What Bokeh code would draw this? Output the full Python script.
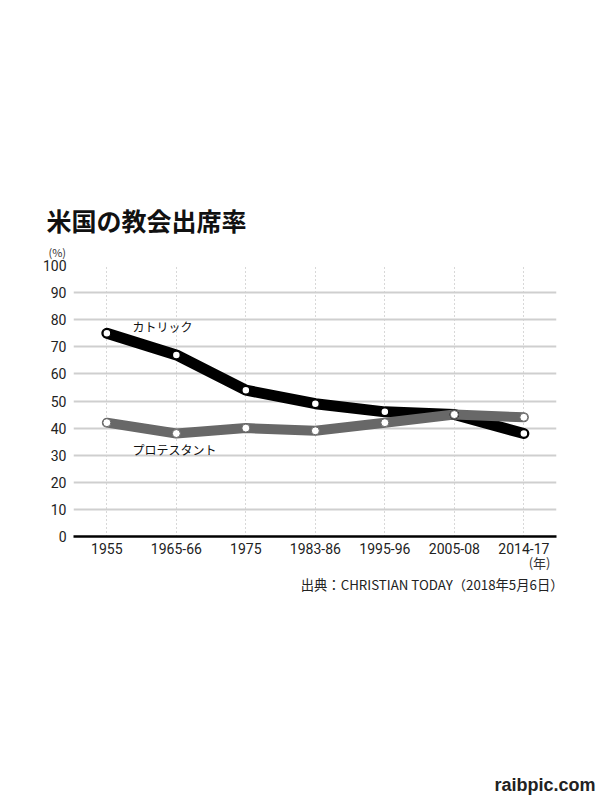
from bokeh.plotting import figure
from bokeh.models import Range1d, FixedTicker, Label, Title
from bokeh.embed import file_html
from bokeh.resources import INLINE

# ---- data ----
periods = ["1955", "1965-66", "1975", "1983-86", "1995-96", "2005-08", "2014-17"]
catholic = [75, 67, 54, 49, 46, 45, 38]
protestant = [42, 38, 40, 39, 42, 45, 44]
y_ticks = [0, 10, 20, 30, 40, 50, 60, 70, 80, 90, 100]

title_text = "米国の教会出席率"
catholic_name = "カトリック"
protestant_name = "プロテスタント"
unit_y = "(%)"
unit_x = "(年)"
source_text = "出典：CHRISTIAN TODAY（2018年5月6日）"
watermark = "raibpic.com"

xs = list(range(len(periods)))

JP = "Noto Sans CJK JP"
NUM = "Roboto"

p = figure(width=600, height=800, output_backend="svg", toolbar_location=None,
           x_range=Range1d(-0.48, 6.47), y_range=Range1d(0, 100),
           min_border_left=73, min_border_right=44,
           min_border_top=265, min_border_bottom=264)
p.title = None
p.outline_line_color = None
p.background_fill_color = "white"
p.border_fill_color = "white"

# axes
p.xaxis.ticker = FixedTicker(ticks=xs)
p.xaxis.major_label_overrides = {i: s for i, s in enumerate(periods)}
p.xaxis.axis_line_color = "black"
p.xaxis.axis_line_width = 2.5
p.xaxis.major_tick_line_color = None
p.xaxis.major_tick_out = 0
p.xaxis.major_tick_in = 0
p.xaxis.minor_tick_line_color = None
p.xaxis.major_label_standoff = 6
p.xaxis.major_label_text_font = NUM
p.xaxis.major_label_text_font_size = "14px"
p.xaxis.major_label_text_color = "#222222"

p.yaxis.ticker = FixedTicker(ticks=y_ticks)
p.yaxis.axis_line_color = None
p.yaxis.major_tick_line_color = None
p.yaxis.major_tick_out = 0
p.yaxis.major_tick_in = 0
p.yaxis.minor_tick_line_color = None
p.yaxis.major_label_standoff = 7
p.yaxis.major_label_text_font = NUM
p.yaxis.major_label_text_font_size = "14px"
p.yaxis.major_label_text_color = "#222222"

# grids
p.xgrid.ticker = FixedTicker(ticks=xs)
p.xgrid.grid_line_color = "#b0b0b0"
p.xgrid.grid_line_dash = "1 3"
p.xgrid.grid_line_width = 1
p.ygrid.ticker = FixedTicker(ticks=y_ticks)
p.ygrid.grid_line_color = "#cfcfcf"
p.ygrid.grid_line_width = 2

# series
p.line(xs, catholic, line_width=11, line_color="black",
       line_join="round", line_cap="round")
p.line(xs, protestant, line_width=10, line_color="#686868",
       line_join="round", line_cap="round")
p.scatter(xs, catholic, size=8, fill_color="white", line_color="black", line_width=1.5)
p.scatter(xs, protestant, size=8, fill_color="white", line_color="#686868", line_width=1)

# in-plot series labels
p.add_layout(Label(x=0.369, y=77.5, text=catholic_name, text_font=JP,
                   text_font_size="12px", text_color="#111111",
                   text_baseline="middle", text_align="left"))
p.add_layout(Label(x=0.369, y=32.0, text=protestant_name, text_font=JP,
                   text_font_size="12px", text_color="#111111",
                   text_baseline="middle", text_align="left"))

# titles above (first added is nearest the frame)
p.add_layout(Title(text=unit_y, align="left", offset=-25, standoff=12,
                   text_font=JP, text_font_size="11px", text_font_style="normal",
                   text_color="#333333"), "above")
p.add_layout(Title(text=title_text, align="left", offset=-27, standoff=-4,
                   text_font=JP, text_font_size="25px", text_font_style="bold",
                   text_color="#111111"), "above")

# titles below (first added is nearest the axis)
p.add_layout(Title(text=unit_x, align="right", offset=6, standoff=-11,
                   text_font=JP, text_font_size="13px", text_font_style="normal",
                   text_color="#333333"), "below")
p.add_layout(Title(text=source_text, align="right", offset=-7, standoff=13,
                   text_font=JP, text_font_size="13.3px", text_font_style="normal",
                   text_color="#222222"), "below")
# blank spacer that pushes the watermark down to the page foot
p.add_layout(Title(text=" ", align="right", offset=0, standoff=169,
                   text_font=JP, text_font_size="1px"), "below")
p.add_layout(Title(text=watermark, align="right", offset=-39, standoff=0,
                   text_font="Liberation Sans", text_font_size="18px",
                   text_font_style="bold", text_color="#222222"), "below")

open("out.html", "w").write(file_html(p, INLINE))
